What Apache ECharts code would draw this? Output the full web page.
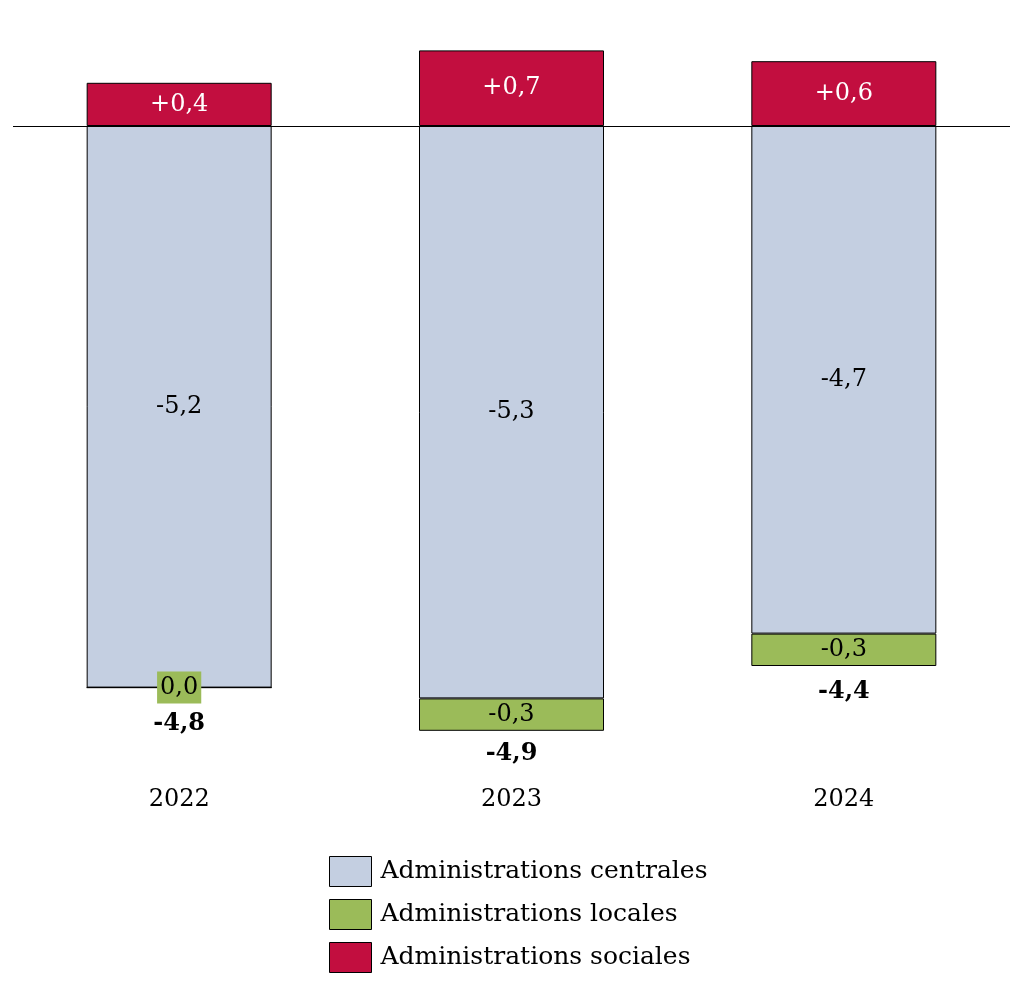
<!DOCTYPE html>
<html><head><meta charset="utf-8">
<script src="https://cdn.jsdelivr.net/npm/echarts@6/dist/echarts.min.js"></script>
<style>html,body{margin:0;padding:0;background:#fff}#c{width:1024px;height:994px}</style>
</head><body><div id="c"></div>
<script>
const categories = ['2022', '2023', '2024'];
const centrales = [-5.2, -5.3, -4.7];
const locales = [0.0, -0.3, -0.3];
const sociales = [0.4, 0.7, 0.6];
const totals = [-4.8, -4.9, -4.4];
const seriesNames = ['Administrations centrales', 'Administrations locales', 'Administrations sociales'];

const FONT = 'DejaVu Serif';
const FS = 24;
const fmt = v => (v > 0 ? '+' : '') + v.toFixed(1).replace('.', ',');
const negBottom = centrales.map((v, i) => v + locales[i]);

const chart = echarts.init(document.getElementById('c'), null, {renderer: 'canvas'});
const barW = 185;
chart.setOption({
  animation: false,
  textStyle: {fontFamily: FONT},
  grid: {left: 13, right: 14, top: 18, bottom: 220},
  legend: {
    data: seriesNames, orient: 'vertical', left: 329, top: 856, padding: 0,
    icon: 'rect', itemWidth: 42, itemHeight: 30, itemGap: 12,
    textStyle: {fontFamily: FONT, fontSize: 25, color: '#000', lineHeight: 30, padding: [0, 0, 0, 4]},
    itemStyle: {borderColor: '#000', borderWidth: 1}
  },
  xAxis: {
    type: 'category', data: categories,
    axisLine: {show: false}, axisTick: {show: false},
    axisLabel: {fontFamily: FONT, fontSize: FS, color: '#000', margin: 14}
  },
  yAxis: {
    type: 'value', min: -6, max: 1, interval: 1,
    axisLine: {show: false}, axisTick: {show: false}, axisLabel: {show: false}, splitLine: {show: false}
  },
  series: [
    {
      name: seriesNames[0], type: 'bar', stack: 'neg', stackStrategy: 'all', barWidth: barW, barGap: '-100%',
      data: centrales,
      itemStyle: {color: '#C4CFE1', borderColor: '#000', borderWidth: 1},
      label: {show: true, position: 'inside', fontFamily: FONT, fontSize: FS, color: '#000', formatter: p => fmt(p.value)},
      markLine: {
        silent: true, symbol: 'none', label: {show: false},
        lineStyle: {color: '#000', width: 1, type: 'solid'},
        data: [{yAxis: 0}]
      }
    },
    {
      name: seriesNames[1], type: 'bar', stack: 'neg', stackStrategy: 'all', barWidth: barW, barGap: '-100%',
      data: locales.map((v, i) => v === 0 ? {value: v, label: {backgroundColor: '#9BBB59', padding: [5, 3, 3, 3]}} : v),
      itemStyle: {color: '#9BBB59', borderColor: '#000', borderWidth: 1},
      label: {show: true, position: 'inside', fontFamily: FONT, fontSize: FS, color: '#000', formatter: p => fmt(p.value)}
    },
    {
      name: seriesNames[2], type: 'bar', stack: 'pos', barWidth: barW, barGap: '-100%',
      data: sociales,
      itemStyle: {color: '#C20E3F', borderColor: '#000', borderWidth: 1},
      label: {show: true, position: 'inside', fontFamily: FONT, fontSize: FS, color: '#fff', formatter: p => fmt(p.value)}
    },
    {
      name: 'Total', type: 'scatter', symbolSize: 0, silent: true,
      itemStyle: {opacity: 1},
      data: negBottom.map((v, i) => ({
        value: [i, v],
        label: {distance: i === 0 ? 24 : (i === 2 ? 14 : 11), formatter: fmt(totals[i])}
      })),
      label: {show: true, position: 'bottom', fontFamily: FONT, fontSize: FS, fontWeight: 'bold', color: '#000'}
    }
  ]
});
</script></body></html>
